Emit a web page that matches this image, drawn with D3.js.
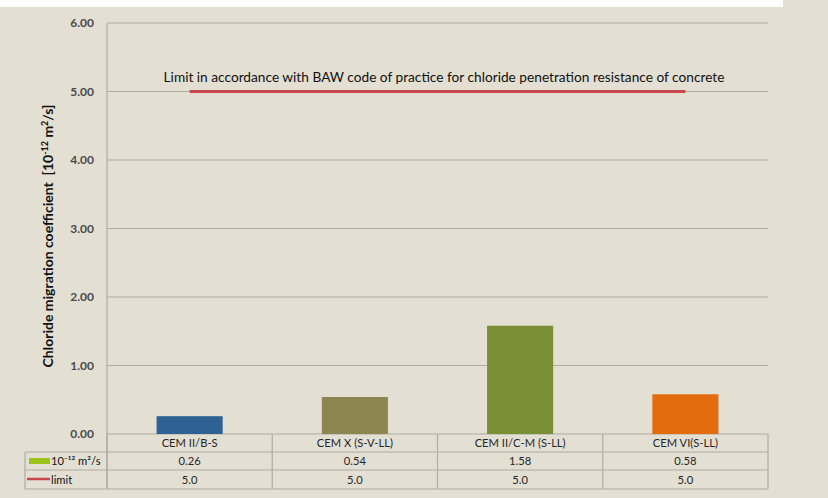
<!DOCTYPE html>
<html><head><meta charset="utf-8">
<script src="https://cdn.jsdelivr.net/npm/d3@7"></script>
<style>
html,body{margin:0;padding:0;background:#e3dfd3;}
svg{display:block;}
text{font-family:Lato,"Open Sans",sans-serif;}
</style></head>
<body>
<svg id="c" width="828" height="498"></svg>
<script>
const categories = ["CEM II/B-S", "CEM X (S-V-LL)", "CEM II/C-M (S-LL)", "CEM VI(S-LL)"];
const coefValues = [0.26, 0.54, 1.58, 0.58];
const limitValues = [5.0, 5.0, 5.0, 5.0];
const barColors = ["#2e6295", "#8e8650", "#788f36", "#e36c0f"];
const yTicks = [0, 1, 2, 3, 4, 5, 6];
const seriesNames = ["10\u207B\u00B9\u00B2 m\u00B2/s", "limit"];
const annotation = "Limit in accordance with BAW code of practice for chloride penetration resistance of concrete";

const svg = d3.select("#c");
svg.append("rect").attr("x",0).attr("y",0).attr("width",828).attr("height",498).attr("fill","#e3dfd3");
svg.append("rect").attr("x",0).attr("y",0).attr("width",783).attr("height",7).attr("fill","#ffffff");

const L = 107, R = 768, T = 23, B = 434;
const x = d3.scaleBand().domain(categories).range([L, R]).paddingInner(0).paddingOuter(0);
const y = d3.scaleLinear().domain([0, 6]).range([B, T]);
const grid = "#aeaca3";
const txt = "#262626";

// gridlines
svg.append("g").selectAll("line").data(yTicks).join("line")
  .attr("x1", L).attr("x2", R).attr("y1", d => y(d)).attr("y2", d => y(d))
  .attr("stroke", grid).attr("stroke-width", 1.2);

// y axis labels
const yAxis = d3.axisLeft(y).tickValues(yTicks).tickFormat(d3.format(".2f")).tickSize(0).tickPadding(13);
const ya = svg.append("g").attr("transform", `translate(${L},0)`).call(yAxis);
ya.select(".domain").remove();
ya.selectAll("text").attr("font-size", 12).attr("font-weight", "bold").attr("fill", "#4a4a4a")
  .attr("font-family", "Lato, sans-serif");

// axis line
svg.append("line").attr("x1", L).attr("x2", L).attr("y1", T).attr("y2", 489).attr("stroke", grid).attr("stroke-width", 1.2);

// bars
const bw = x.bandwidth() * 0.4;
svg.append("g").selectAll("rect").data(categories).join("rect")
  .attr("x", d => x(d) + (x.bandwidth() - bw) / 2)
  .attr("width", bw)
  .attr("y", (d, i) => y(coefValues[i]))
  .attr("height", (d, i) => y(0) - y(coefValues[i]))
  .attr("fill", (d, i) => barColors[i]);

// limit line
const line = d3.line().x((d, i) => x(categories[i]) + x.bandwidth() / 2).y(d => y(d));
svg.append("path").datum(limitValues).attr("d", line)
  .attr("fill", "none").attr("stroke", "#c9474a").attr("stroke-width", 3);

// annotation
svg.append("text").attr("x", 444).attr("y", 82).attr("text-anchor", "middle")
  .attr("font-size", 13.7).attr("fill", "#111").text(annotation);

// y title
svg.append("text").attr("transform", `translate(53,236) rotate(-90)`).attr("text-anchor", "middle")
  .attr("font-size", 14).attr("font-weight", "bold").attr("fill", "#111")
  .call(t => {
    t.append("tspan").text("Chloride migration coefficient\u00A0\u00A0[10");
    t.append("tspan").attr("dy", -5).attr("font-size", 9).text("-12");
    t.append("tspan").attr("dy", 5).text("\u00A0m");
    t.append("tspan").attr("dy", -5).attr("font-size", 9).text("2");
    t.append("tspan").attr("dy", 5).text("/s]");
  });

// data table
const rows = [452, 470, 489];
const TL = 25;
const tg = svg.append("g");
rows.forEach(r => {
  tg.append("line").attr("x1", TL).attr("x2", R).attr("y1", r).attr("y2", r).attr("stroke", grid).attr("stroke-width", 1.2);
});
const vx = categories.map(c => x(c)).concat([R]);
tg.selectAll("line.v").data(vx).join("line").attr("class", "v")
  .attr("x1", d => d).attr("x2", d => d).attr("y1", B).attr("y2", rows[2]).attr("stroke", grid).attr("stroke-width", 1.2);
tg.append("line").attr("x1", TL).attr("x2", TL).attr("y1", rows[0]).attr("y2", rows[2]).attr("stroke", grid).attr("stroke-width", 1.2);

const cellFont = 11.2;
tg.selectAll("text.cat").data(categories).join("text").attr("class", "cat")
  .attr("x", d => x(d) + x.bandwidth() / 2).attr("y", 447).attr("text-anchor", "middle")
  .attr("font-size", cellFont).attr("fill", txt).text(d => d);
tg.selectAll("text.v1").data(coefValues).join("text").attr("class", "v1")
  .attr("x", (d, i) => x(categories[i]) + x.bandwidth() / 2).attr("y", 465).attr("text-anchor", "middle")
  .attr("font-size", cellFont).attr("fill", txt).text(d => d3.format(".2f")(d));
tg.selectAll("text.v2").data(limitValues).join("text").attr("class", "v2")
  .attr("x", (d, i) => x(categories[i]) + x.bandwidth() / 2).attr("y", 484).attr("text-anchor", "middle")
  .attr("font-size", cellFont).attr("fill", txt).text(d => d3.format(".1f")(d));

// legend keys
tg.append("rect").attr("x", 29).attr("y", 458).attr("width", 21).attr("height", 6).attr("fill", "#9bc31b");
tg.append("line").attr("x1", 27).attr("x2", 50).attr("y1", 479).attr("y2", 479).attr("stroke", "#c9474a").attr("stroke-width", 2.5);
tg.append("text").attr("x", 51).attr("y", 465).attr("font-size", cellFont).attr("fill", "#111").text(seriesNames[0]);
tg.append("text").attr("x", 51).attr("y", 484).attr("font-size", cellFont).attr("fill", "#111").text(seriesNames[1]);
</script>
</body></html>
